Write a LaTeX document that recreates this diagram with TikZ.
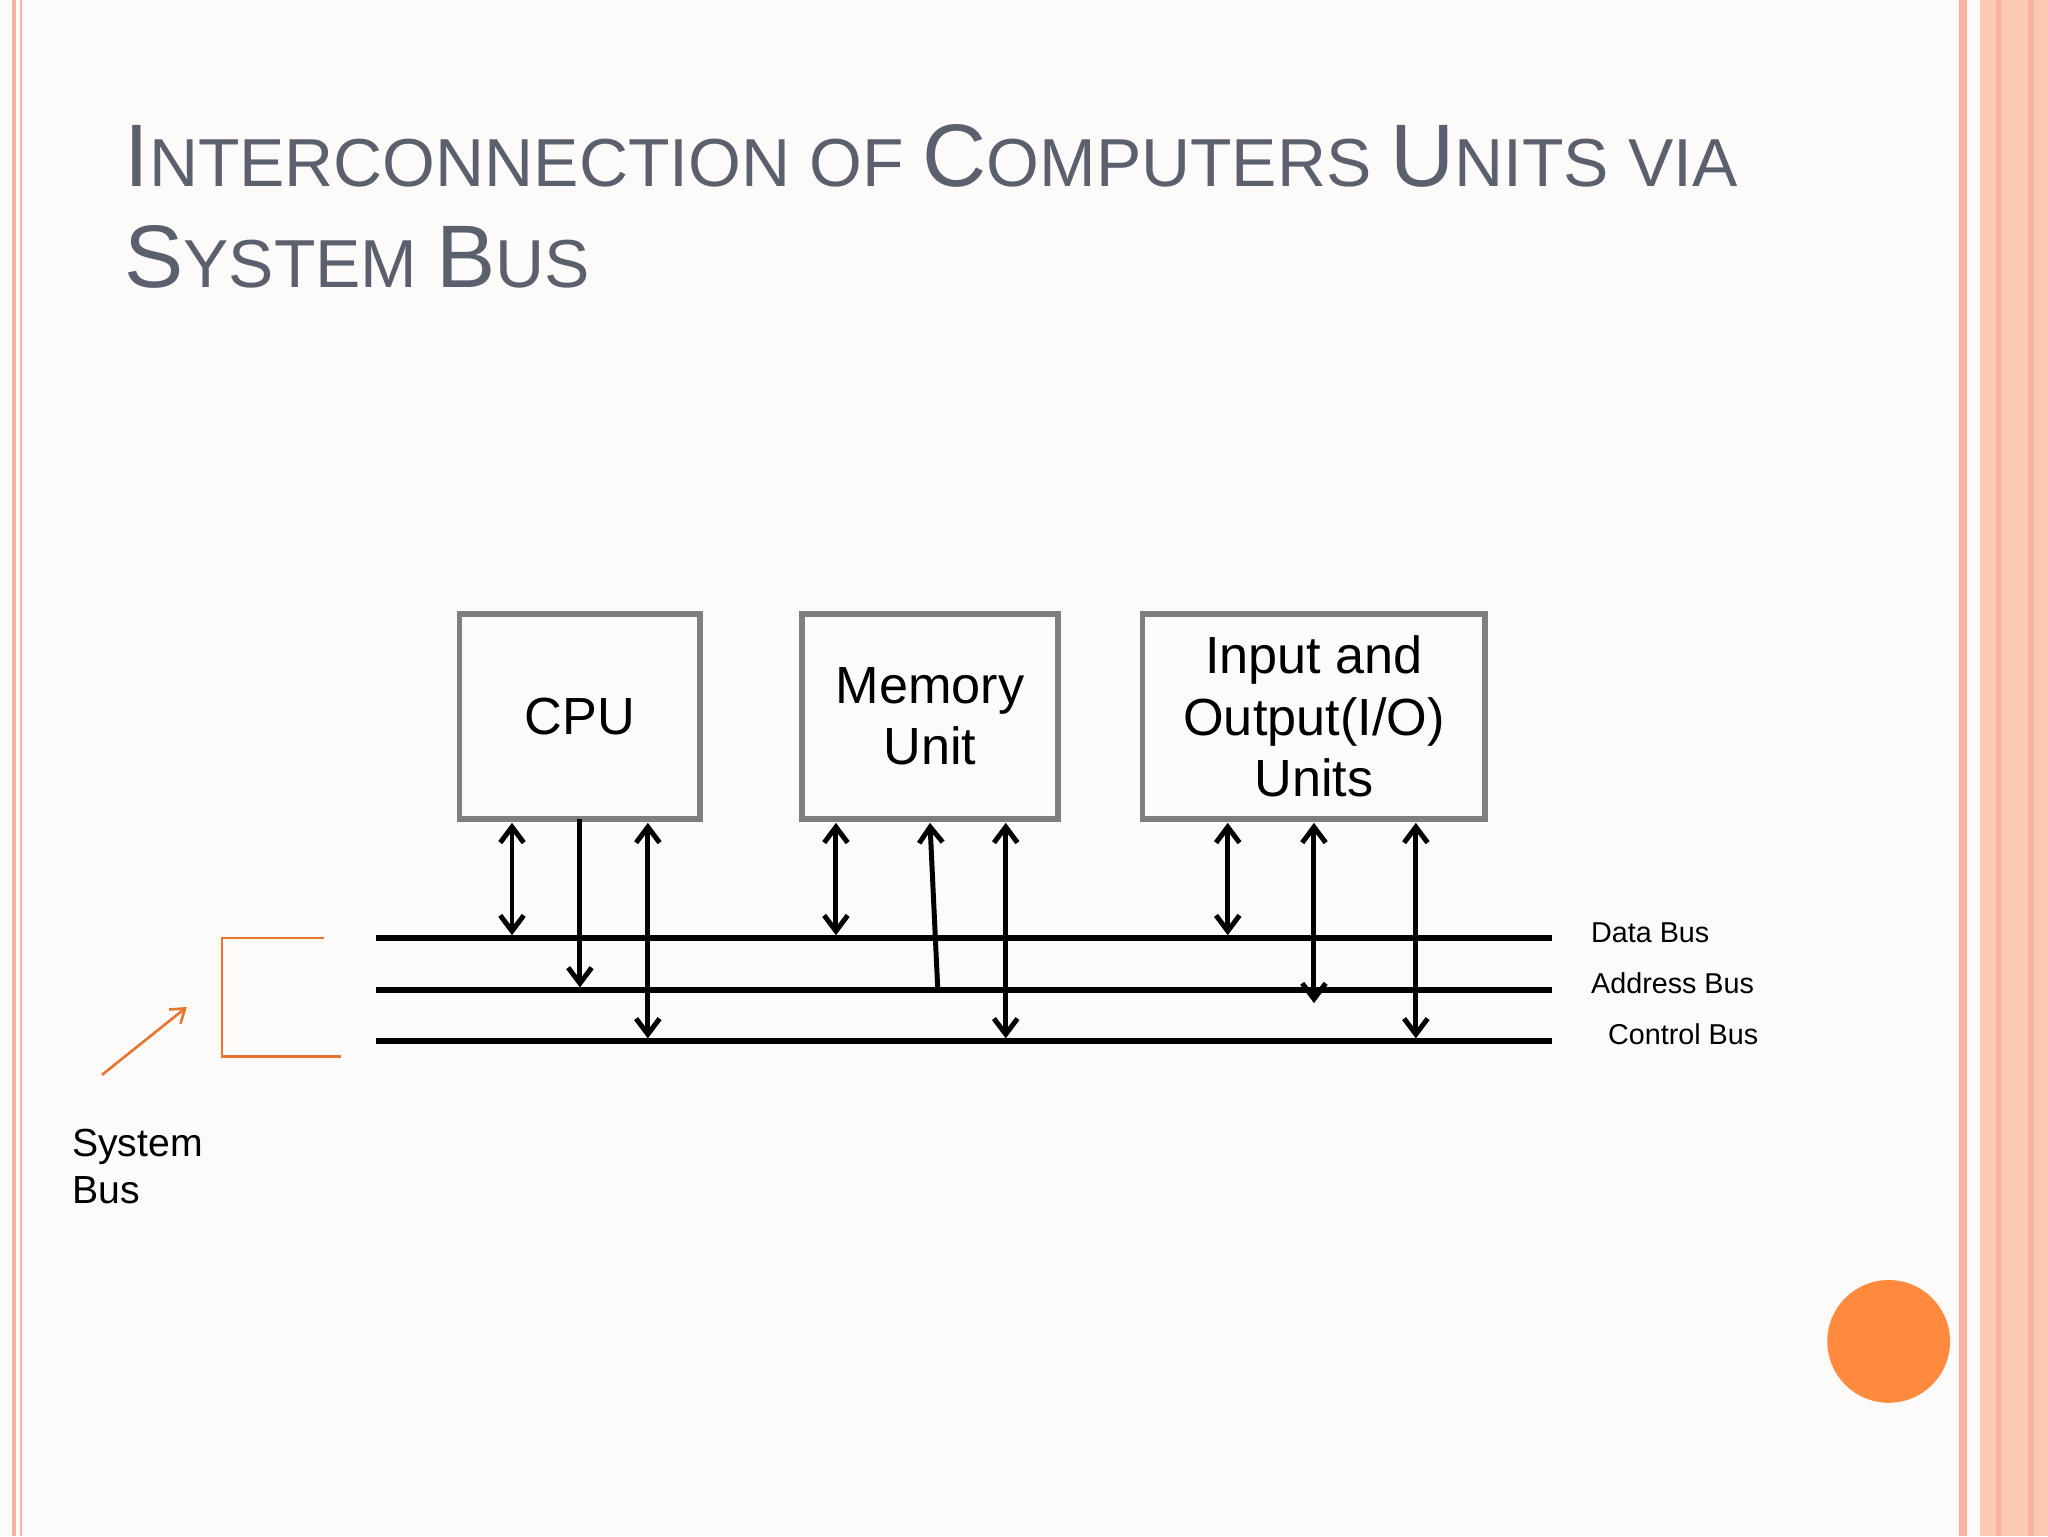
\documentclass[tikz,border=0pt]{standalone}
\usepackage{fontspec}
\setmainfont{Liberation Sans}
\usetikzlibrary{arrows.meta}
\definecolor{bg}{HTML}{FDFBFA}
\definecolor{salmon}{HTML}{F7B3A0}
\definecolor{peach}{HTML}{FCC9B4}
\definecolor{titlec}{HTML}{5B606E}
\definecolor{boxc}{HTML}{7F7F7F}
\definecolor{orng}{HTML}{E8762C}
\definecolor{dot}{HTML}{FF8A3D}
\newcommand{\scw}[2]{{\fontsize{68}{80}\selectfont #1}{\fontsize{52}{60}\selectfont #2}}
\tikzset{
  box/.style={draw=boxc,line width=4pt,minimum width=#1,align=center,font=\fontsize{40}{47}\selectfont,inner sep=0},
  bus/.style={line width=4.2pt},
  tip/.style={line width=3.8pt,-{Straight Barb[length=12pt,width=18pt]}},
  dtip/.style={line width=3.8pt,{Straight Barb[length=12pt,width=18pt]}-{Straight Barb[length=12pt,width=18pt]}},
  lbl/.style={anchor=west,font=\fontsize{22}{26}\selectfont,inner sep=0}
}
\begin{document}
\begin{tikzpicture}[x=1pt,y=-1pt]
\fill[bg] (0,0) rectangle (1568,1176);
\useasboundingbox (0,0) rectangle (1568,1176);
% borders
\fill[salmon] (9,0) rectangle (12,1176);
\fill[salmon] (15,0) rectangle (17,1176);
\fill[salmon] (1500,0) rectangle (1506,1176);
\fill[peach] (1516,0) rectangle (1568,1176);
\fill[salmon] (1528,0) rectangle (1532,1176);
\fill[salmon] (1553,0) rectangle (1557,1176);
% title
\node[anchor=base west,inner sep=0,text=titlec] (t1) at (95,143)
 {\scw{I}{NTERCONNECTION OF }\scw{C}{OMPUTERS }\scw{U}{NITS VIA}};
\node[anchor=base west,inner sep=0,text=titlec] (t2) at (95,220)
 {\scw{S}{YSTEM }\scw{B}{US}};
% boxes
\node[box=184pt,minimum height=157pt] (cpu) at (444,548.5) {CPU};
\node[box=196pt,minimum height=157pt] (mem) at (712,548.5) {Memory\\Unit};
\node[box=262pt,minimum height=157pt] (io) at (1006,548.5) {Input and\\Output(I/O)\\Units};
% buses
\coordinate (d1) at (288,718); \coordinate (d2) at (1188,718);
\coordinate (a1) at (288,758); \coordinate (a2) at (1188,758);
\coordinate (c1) at (288,797); \coordinate (c2) at (1188,797);
\draw[bus] (d1)--(d2); \draw[bus] (a1)--(a2); \draw[bus] (c1)--(c2);
\node[lbl] (ld) at (1218,714) {Data Bus};
\node[lbl] (la) at (1218,753) {Address Bus};
\node[lbl] (lc) at (1231,792) {Control Bus};
% connectors
\draw[dtip] (392,630) -- (392,716);
\draw[tip] (444,627) -- (444,756);
\draw[dtip] (496,630) -- (496,795);
\draw[dtip] (640,630) -- (640,716);
\draw[tip] (718,758) -- (712,630);
\draw[dtip] (770,630) -- (770,795);
\draw[dtip] (940,630) -- (940,716);
\draw[dtip] (1006,630) -- (1006,768);
\draw[dtip] (1084,630) -- (1084,795);
% system bus bracket
\draw[orng,line width=2pt] (248,718) -- (170,718) -- (170,809) -- (261,809);
\coordinate (s0) at (78,823); \coordinate (s1) at (143,771);
\draw[orng,line width=2pt,-{Straight Barb[length=10pt,width=14pt]}] (s0) -- (s1);
\node[anchor=north west,align=left,inner sep=0,font=\fontsize{30}{36}\selectfont] (sb) at (55,864) {System\\Bus};
\fill[dot] (1446,1027) circle (47);
\end{tikzpicture}
\end{document}
